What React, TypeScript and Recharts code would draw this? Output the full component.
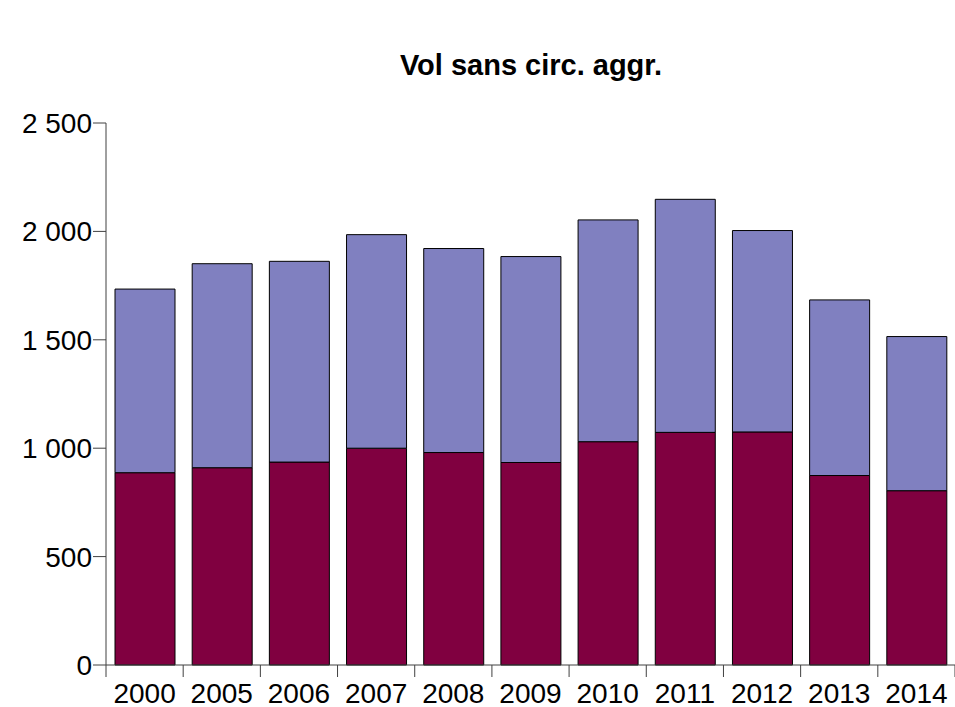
import React from "react";
import { BarChart, Bar, XAxis, YAxis } from "recharts";

const years = ["2000", "2005", "2006", "2007", "2008", "2009", "2010", "2011", "2012", "2013", "2014"];
const bottomValues = [887, 910, 936, 1000, 980, 934, 1030, 1073, 1075, 874, 804];
const topValues = [847, 941, 926, 985, 941, 950, 1023, 1075, 929, 810, 711];
const yTicks = [0, 500, 1000, 1500, 2000, 2500];
const title = "Vol sans circ. aggr.";

const data = years.map((y, i) => ({ year: y, bottom: bottomValues[i], top: topValues[i] }));

const W = 955;
const H = 707;
const Y_AXIS_W = 106;
const PLOT_W = W - Y_AXIS_W;
const BAND = PLOT_W / years.length;
const FONT = "'Liberation Sans', Arial, sans-serif";
const AXIS_COLOR = "#404040";

const fmt = (v: number) => {
  const s = String(v);
  return s.length > 3 ? s.slice(0, s.length - 3) + " " + s.slice(-3) : s;
};

function XTick(props: any) {
  const { x, y, payload, index } = props;
  const half = payload && typeof payload.offset === "number" && payload.offset > 0 ? payload.offset : BAND / 2;
  return (
    <g>
      <line x1={x - half} x2={x - half} y1={y} y2={y + 12} stroke={AXIS_COLOR} strokeWidth={1} />
      {index === years.length - 1 && (
        <line x1={x + half} x2={x + half} y1={y} y2={y + 12} stroke={AXIS_COLOR} strokeWidth={1} />
      )}
      <text x={x} y={y + 38} textAnchor="middle" fontSize={28} fill="#000" fontFamily={FONT}>
        {payload.value}
      </text>
    </g>
  );
}

export default function App() {
  return (
    <div style={{ position: "absolute", left: 0, top: 0, width: W, height: H, background: "#fff" }}>
      <BarChart
        width={W}
        height={H}
        data={data}
        margin={{ top: 123, right: 0, left: 0, bottom: 0 }}
        barSize={60}
      >
        <XAxis
          dataKey="year"
          height={42}
          tickSize={0}
          tickMargin={0}
          tickLine={false}
          axisLine={{ stroke: AXIS_COLOR }}
          tick={<XTick />}
          interval={0}
        />
        <YAxis
          width={Y_AXIS_W}
          domain={[0, 2500]}
          ticks={yTicks}
          tickFormatter={fmt}
          tickSize={13}
          tickMargin={1}
          axisLine={{ stroke: AXIS_COLOR }}
          tickLine={{ stroke: AXIS_COLOR }}
          tick={{ fontSize: 28, fill: "#000", fontFamily: FONT }}
          interval={0}
        />
        <Bar dataKey="bottom" stackId="a" fill="#800040" stroke="#000" strokeWidth={1} isAnimationActive={false} />
        <Bar dataKey="top" stackId="a" fill="#8080C0" stroke="#000" strokeWidth={1} isAnimationActive={false} />
      </BarChart>
      <svg
        width={W}
        height={100}
        style={{ position: "absolute", left: 0, top: 0, pointerEvents: "none" }}
      >
        <text x={531} y={75} textAnchor="middle" fontSize={29} fontWeight="bold" fill="#000" fontFamily={FONT}>
          {title}
        </text>
      </svg>
    </div>
  );
}
